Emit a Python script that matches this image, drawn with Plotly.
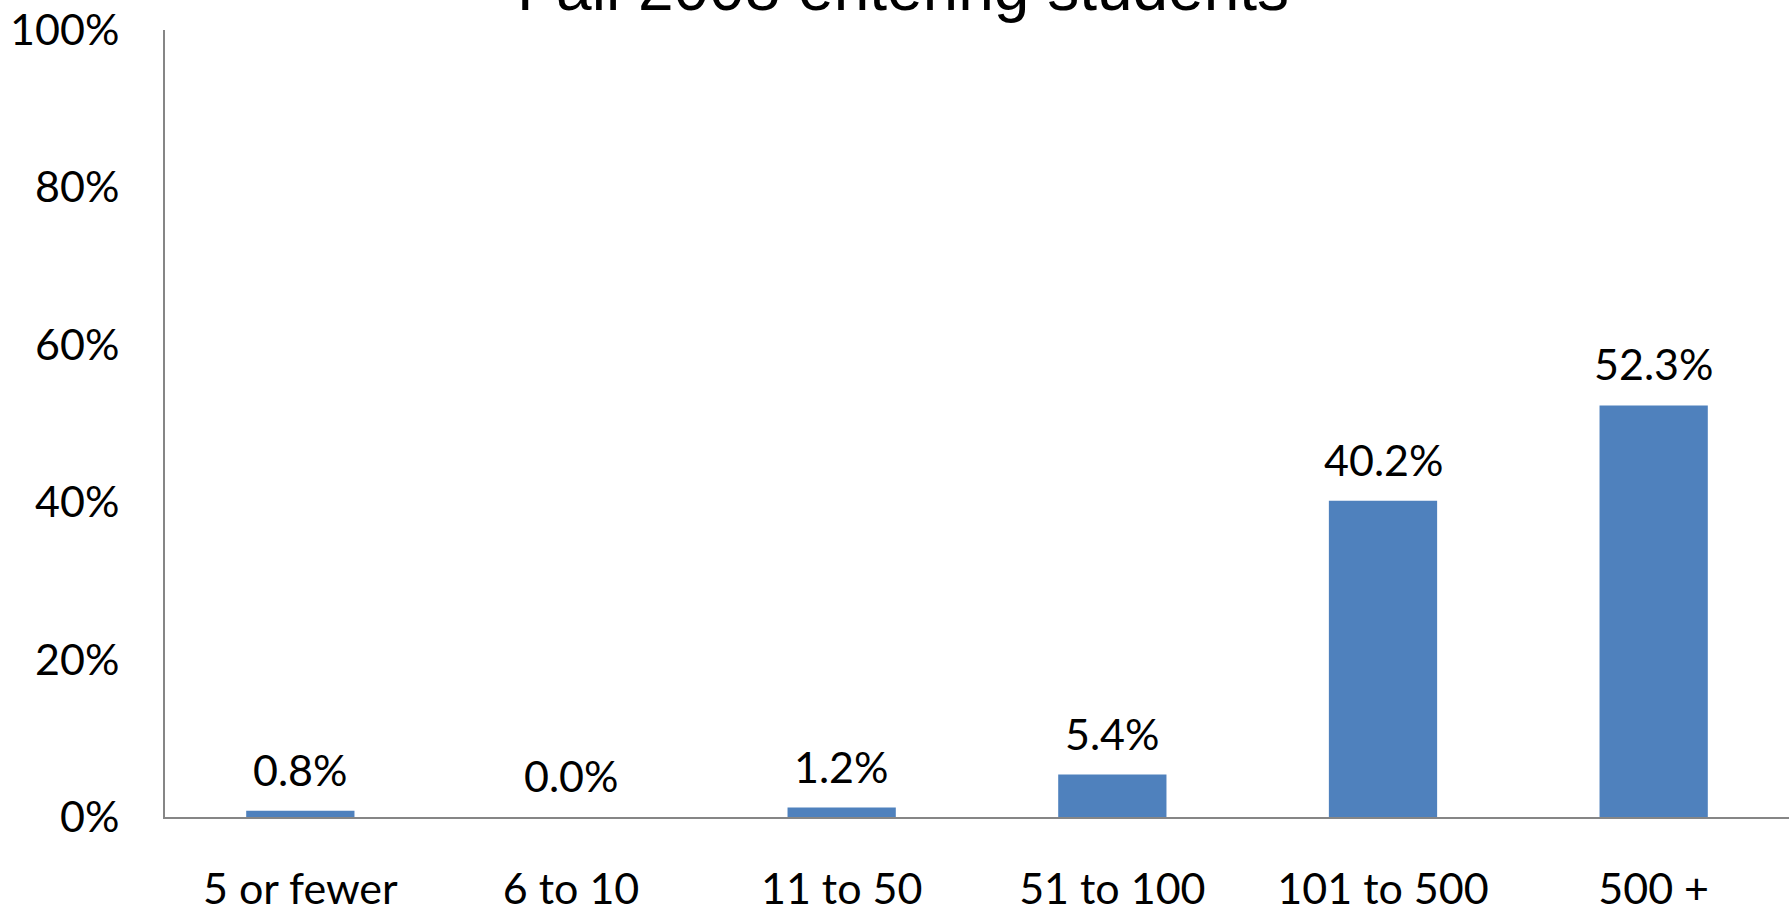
import plotly.graph_objects as go

# Class size brackets and share of entering students in each
categories = ["5 or fewer", "6 to 10", "11 to 50", "51 to 100", "101 to 500", "500 +"]
shares = [0.8, 0.0, 1.2, 5.4, 40.2, 52.3]  # percent
y_ticks = [0, 20, 40, 60, 80, 100]
title_text = "Fall 2008 entering students"

BAR_COLOR = "#4F81BD"
AXIS_COLOR = "#868686"
LABEL_FONT = dict(family="Lato, 'Open Sans', sans-serif", size=43, color="#000000")

fig = go.Figure(
    go.Bar(
        x=categories,
        y=shares,
        marker=dict(color=BAR_COLOR, line=dict(width=0)),
        hoverinfo="skip",
    )
)

# Value labels above each bar
for cat, val in zip(categories, shares):
    fig.add_annotation(
        x=cat, y=val, xref="x", yref="y",
        text=f"{val:.1f}%",
        showarrow=False,
        yanchor="bottom",
        yshift=14,
        font=LABEL_FONT,
    )

# Chart title, partly running off the top edge
fig.add_annotation(
    x=0.4544, y=1.0057, xref="paper", yref="paper",
    text=title_text,
    showarrow=False,
    xanchor="center", yanchor="bottom",
    font=dict(family="'Liberation Sans', Arial, sans-serif", size=64, color="#000000"),
)

fig.update_layout(
    width=1789,
    height=913,
    margin=dict(l=165, r=0, t=30, b=96, pad=0, autoexpand=False),
    paper_bgcolor="white",
    plot_bgcolor="white",
    showlegend=False,
    bargap=0.6,
    xaxis=dict(
        type="category",
        range=[-0.5, len(categories) - 0.5],
        automargin=False,
        showline=True,
        linecolor=AXIS_COLOR,
        linewidth=2,
        ticks="",
        showgrid=False,
        zeroline=False,
        tickfont=LABEL_FONT,
        ticklabelstandoff=33,
    ),
    yaxis=dict(
        range=[0, 100],
        automargin=False,
        tickvals=y_ticks,
        ticktext=[f"{t}%" for t in y_ticks],
        showline=True,
        linecolor=AXIS_COLOR,
        linewidth=2,
        ticks="",
        showgrid=False,
        zeroline=False,
        tickfont=LABEL_FONT,
        ticklabelstandoff=35,
    ),
)

fig.write_html("out.html")
